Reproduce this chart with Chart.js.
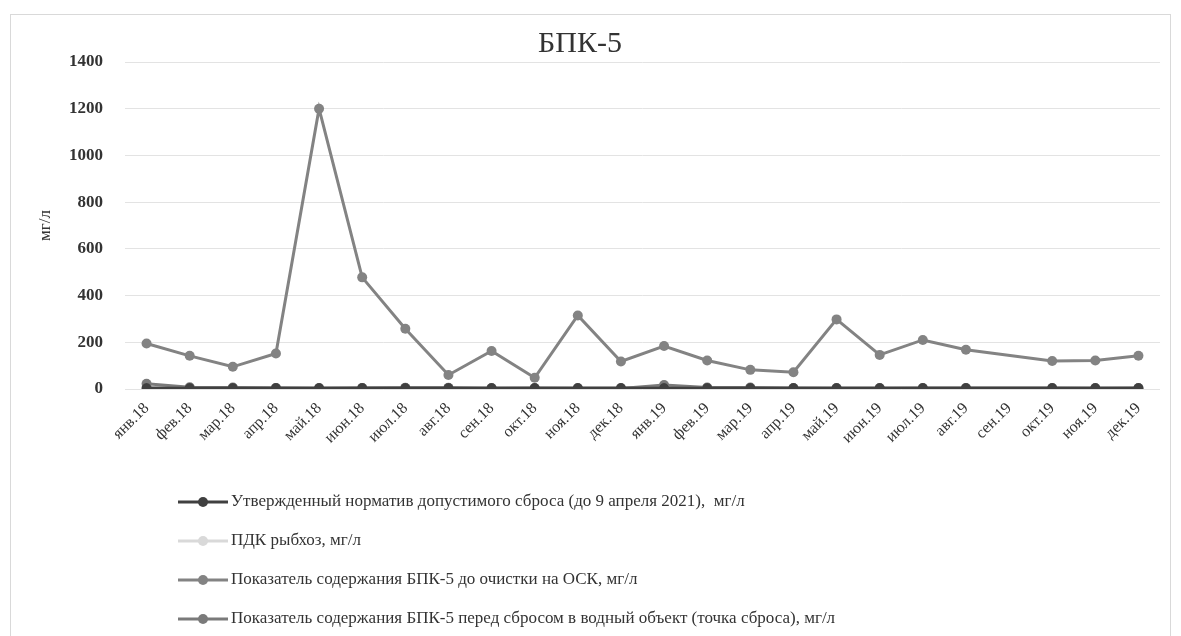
<!DOCTYPE html>
<html lang="ru">
<head>
<meta charset="utf-8">
<title>БПК-5</title>
<script src="https://cdn.jsdelivr.net/npm/chart.js@4.4.1/dist/chart.umd.min.js"></script>
<style>
  html, body { margin: 0; padding: 0; background: #fff; }
  #wrap { position: relative; width: 1181px; height: 636px; }
</style>
</head>
<body>
<div id="wrap"><canvas id="bpkChart" width="1181" height="636"></canvas></div>
<script>
const months = ['янв.18', 'фев.18', 'мар.18', 'апр.18', 'май.18', 'июн.18', 'июл.18', 'авг.18', 'сен.18', 'окт.18', 'ноя.18', 'дек.18',
                'янв.19', 'фев.19', 'мар.19', 'апр.19', 'май.19', 'июн.19', 'июл.19', 'авг.19', 'сен.19', 'окт.19', 'ноя.19', 'дек.19'];

// мг/л, сен.19 нет данных
const normValues = [4, 4, 4, 4, 4, 4, 4, 4, 4, 4, 4, 4, 4, 4, 4, 4, 4, 4, 4, 4, null, 4, 4, 4];
const pdkValues = [3, 3, 3, 3, 3, 3, 3, 3, 3, 3, 3, 3, 3, 3, 3, 3, 3, 3, 3, 3, null, 3, 3, 3];
const beforeValues = [195, 142, 95, 152, 1200, 478, 258, 60, 163, 48, 315, 118, 184, 122, 82, 72, 298, 146, 210, 168, null, 120, 122, 142];
const dischargeValues = [22, 7, 6, 4, 2, 4, 5, 5, 2, 3, 2, 2, 17, 6, 6, 3, 2, 2, 3, 3, null, 3, 2, 3];

const yMin = 0;
const yMax = 1400;
const yStep = 200;

const seriesNames = [
    'Утвержденный норматив допустимого сброса (до 9 апреля 2021),  мг/л',
    'ПДК рыбхоз, мг/л',
    'Показатель содержания БПК-5 до очистки на ОСК, мг/л',
    'Показатель содержания БПК-5 перед сбросом в водный объект (точка сброса), мг/л'
];
const seriesColors = ['#404040', '#d9d9d9', '#838383', '#7a7a7a'];

const serif = "'Liberation Serif', 'Times New Roman', serif";

// рамка вокруг диаграммы + легенда столбиком слева
const framePlugin = {
    id: 'frameAndLegend',
    beforeDraw(chart) {
        const ctx = chart.ctx;
        ctx.save();
        ctx.strokeStyle = '#d9d9d9';
        ctx.lineWidth = 1;
        ctx.strokeRect(10.5, 14.5, 1160, 640);
        ctx.restore();
    },
    afterDraw(chart) {
        const ctx = chart.ctx;
        ctx.save();
        ctx.font = '17px ' + serif;
        ctx.textBaseline = 'middle';
        chart.data.datasets.forEach((ds, i) => {
            const y = 502 + i * 39;
            ctx.strokeStyle = ds.borderColor;
            ctx.lineWidth = 3;
            ctx.beginPath();
            ctx.moveTo(178, y);
            ctx.lineTo(228, y);
            ctx.stroke();
            ctx.fillStyle = ds.borderColor;
            ctx.beginPath();
            ctx.arc(203, y, 5, 0, Math.PI * 2);
            ctx.fill();
            ctx.fillStyle = '#333';
            ctx.fillText(ds.label, 231, y);
        });
        ctx.restore();
    }
};

const valueLists = [normValues, pdkValues, beforeValues, dischargeValues];

const ctxBpk = document.getElementById('bpkChart').getContext('2d');
const bpkChart = new Chart(ctxBpk, {
    type: 'line',
    data: {
        labels: months,
        datasets: valueLists.map((vals, i) => ({
            label: seriesNames[i],
            data: vals,
            borderColor: seriesColors[i],
            backgroundColor: seriesColors[i],
            borderWidth: 3,
            pointRadius: 5,
            pointBorderWidth: 0,
            pointBackgroundColor: seriesColors[i],
            spanGaps: true,
            tension: 0
        }))
    },
    options: {
        responsive: false,
        animation: false,
        layout: { padding: { left: 0, right: 21, top: 0, bottom: 147 } },
        plugins: {
            legend: { display: false },
            tooltip: { enabled: false },
            title: {
                display: true,
                text: 'БПК-5',
                color: '#333',
                font: { family: serif, size: 30, weight: 'normal' },
                padding: { top: 26, bottom: 0 }
            }
        },
        scales: {
            x: {
                offset: true,
                grid: { display: false },
                border: { display: false },
                afterFit(scale) { scale.height = 100; },
                ticks: {
                    autoSkip: false,
                    maxRotation: 45,
                    minRotation: 45,
                    padding: 2,
                    color: '#333',
                    font: { family: serif, size: 16 }
                }
            },
            y: {
                min: yMin,
                max: yMax,
                afterFit(scale) { scale.width = 125; },
                grid: { color: '#e3e3e3', drawTicks: false },
                border: { display: false },
                ticks: {
                    stepSize: yStep,
                    padding: 22,
                    color: '#333',
                    font: { family: serif, size: 17, weight: 'bold' },
                    callback: (v) => String(v)
                },
                title: {
                    display: true,
                    text: 'мг/л',
                    color: '#333',
                    font: { family: serif, size: 17 },
                    padding: { top: 35, bottom: 0 }
                }
            }
        }
    },
    plugins: [framePlugin]
});
</script>
</body>
</html>
